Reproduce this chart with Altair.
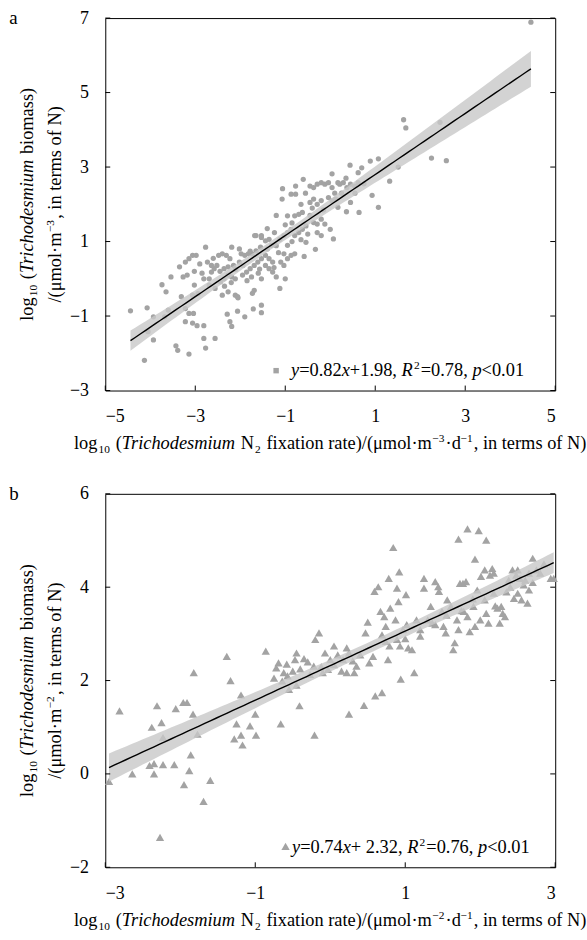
import altair as alt
import numpy as np
import pandas as pd

FONT = "Liberation Serif"
PT_COLOR = "#a3a3a3"
BAND_COLOR = "#c8c8c8"

# ---------------- data ----------------
A_POINTS = [
    (4.46, 6.89), (1.63, 4.27), (1.68, 4.05), (2.44, 4.20), (2.25, 3.24), (2.58, 3.17), (1.51, 3.00), (1.32, 2.62),
    (1.07, 3.22), (0.89, 3.16), (0.44, 3.05), (0.70, 2.98), (0.62, 2.85), (0.04, 2.82), (0.93, 2.24), (1.07, 1.92),
    (0.64, 1.78), (0.36, 1.80), (0.45, 2.05), (0.17, 1.92), (0.00, 1.33), (0.07, 1.07), (-0.33, 0.79), (-0.58, 0.60),
    (-0.54, 0.98), (-0.79, 0.67), (-1.00, 0.00), (-1.12, -0.26), (-1.03, 0.67), (-1.20, 0.89), (-1.07, 2.14), (-1.06, 2.42),
    (-0.77, 2.49), (-0.77, 2.27), (-0.60, 2.67), (-1.20, 1.70), (-1.53, 1.16), (-1.65, 1.16), (-1.57, 0.26), (-1.53, 0.00),
    (-1.69, -0.31), (-1.73, -0.39), (-1.53, -0.71), (-1.53, -0.91), (-1.71, -0.81), (-1.90, -1.02), (-2.06, -0.87), (-2.05, -0.51),
    (-2.23, -1.15), (-2.19, -1.28), (-2.29, -0.95), (-2.56, -1.60), (-2.77, -1.86), (-2.81, -1.60), (-3.14, -2.02), (-3.43, -1.80),
    (-3.39, -1.92), (-4.13, -2.19), (-3.93, -1.64), (-4.05, -1.42), (-4.44, -0.86), (-4.07, -0.78), (-3.93, -1.02), (-3.68, -1.02),
    (-3.74, -0.16), (-3.65, -0.35), (-3.54, 0.05), (-3.31, -0.48), (-3.22, -0.80), (-3.14, -0.93), (-3.22, -1.15), (-3.06, -1.19),
    (-2.96, -1.26), (-2.81, -1.26), (-3.04, -0.93), (-3.60, -0.84), (-3.35, 0.32), (-3.22, 0.45), (-3.14, 0.54), (-3.06, 0.63),
    (-2.98, 0.63), (-2.77, 0.85), (-3.27, 0.05), (-3.18, 0.10), (-3.02, 0.20), (-3.02, -0.17), (-3.06, -0.44), (-2.94, -0.40),
    (-2.81, 0.00), (-2.69, 0.00), (-2.64, 0.18), (-2.58, 0.27), (-2.52, 0.36), (-2.73, 0.45), (-2.64, 0.36), (-2.48, 0.63),
    (-2.40, 0.67), (-2.31, 0.63), (-2.23, 0.54), (-2.19, 0.85), (-2.02, 0.80), (-1.98, 0.67), (-1.90, 0.63), (-1.82, 0.67),
    (-1.78, 0.74), (-1.74, 0.67), (-1.68, 1.16), (-1.53, 1.11), (-1.44, 1.02), (-1.36, 1.06), (-1.24, 1.24), (-2.69, -0.17),
    (-2.56, -0.26), (-2.44, -0.08), (-2.36, 0.00), (-2.27, 0.10), (-2.19, 0.05), (-2.11, 0.00), (-2.40, -0.44), (-2.27, -0.35),
    (-2.11, -0.44), (-2.06, -0.48), (-2.36, 0.27), (-2.27, 0.32), (-2.15, 0.36), (-2.02, 0.45), (-1.94, 0.36), (-1.86, 0.18),
    (-1.78, 0.27), (-1.69, 0.36), (-1.61, 0.45), (-1.53, 0.54), (-1.44, 0.63), (-1.36, 0.54), (-1.28, 0.45), (-1.44, 0.36),
    (-1.36, 0.27), (-1.28, 0.18), (-1.20, 0.05), (-1.03, 0.36), (-0.95, 0.54), (-0.87, 0.63), (-1.12, 1.06), (-1.03, 1.16),
    (-0.95, 1.24), (-0.87, 1.33), (-0.79, 1.16), (-0.70, 1.24), (-0.62, 1.33), (-0.54, 1.42), (-0.79, 1.69), (-0.70, 1.73),
    (-0.62, 1.78), (-0.45, 2.05), (-0.37, 2.14), (-0.29, 2.00), (-0.20, 2.10), (-0.37, 1.51), (-0.29, 1.47), (-0.20, 1.60),
    (-0.12, 1.47), (-0.29, 1.24), (-0.20, 1.16), (-0.45, 2.49), (-0.37, 2.45), (-0.29, 2.54), (-0.20, 2.58), (-0.12, 2.54),
    (-0.04, 2.58), (0.04, 2.45), (0.17, 2.58), (0.21, 2.54), (0.29, 2.58), (0.37, 2.45), (0.45, 2.54), (0.54, 2.49),
    (0.62, 2.58), (-0.04, 2.18), (0.04, 2.09), (0.12, 2.14), (-0.95, 1.69), (-0.87, 2.27), (-2.90, 0.40), (-2.85, 0.15),
    (-2.60, 0.55), (-2.45, 0.20), (-2.35, -0.20), (-2.20, -0.10), (-2.10, 0.25), (-1.95, 0.10), (-1.85, -0.05), (-1.75, 0.05),
    (-1.60, 0.15), (-1.65, 0.75), (-1.55, 0.85), (-1.40, 0.80), (-1.30, 0.90), (-1.15, 0.70), (-1.25, 0.30), (-1.10, 0.45),
    (-0.95, 0.90), (-0.85, 1.00), (-0.65, 1.05), (-0.50, 1.20), (-0.45, 1.70), (-0.40, 1.90), (-0.15, 1.85), (0.10, 2.30),
    (0.25, 2.30), (0.55, 2.30), (0.75, 2.55), (0.35, 2.70), (-0.55, 2.30), (-0.65, 2.00), (-0.85, 1.50), (-1.00, 1.45),
    (-1.40, 1.35),
]

B_POINTS = [
    (-2.95, -0.16), (-2.81, 1.35), (-2.64, 0.00), (-2.41, 0.18), (-2.38, 1.00), (-2.35, 0.22), (-2.35, 0.00), (-2.31, 1.46),
    (-2.27, -1.36), (-2.25, 1.10), (-2.23, 0.78), (-2.23, 0.20), (-2.08, 0.20), (-2.06, 1.40), (-1.96, 1.53), (-1.91, 1.53),
    (-1.86, 0.41), (-1.83, 1.28), (-1.88, 0.07), (-1.95, -0.23), (-1.82, 2.17), (-1.77, 0.85), (-1.69, -0.59), (-1.60, -0.14),
    (-1.38, 2.52), (-1.33, 2.00), (-1.25, 1.07), (-1.28, 0.75), (-1.19, 1.69), (-1.17, 0.62), (-1.19, 0.83), (-1.07, 1.03),
    (-1.00, 1.28), (-0.99, 0.83), (-0.86, 2.63), (-0.72, 2.27), (-0.69, 2.38), (-0.66, 1.07), (-0.64, 1.99), (-0.62, 2.17),
    (-0.57, 2.10), (-0.55, 1.81), (-0.47, 2.45), (-0.45, 2.59), (-0.41, 1.46), (-0.40, 2.25), (-0.35, 2.47), (-0.27, 2.13),
    (-0.22, 2.31), (-0.20, 2.88), (-0.21, 0.83), (-0.15, 3.02), (-0.07, 2.59), (-0.10, 2.17), (-0.03, 2.24), (0.05, 2.34),
    (0.05, 2.74), (0.17, 2.45), (0.22, 2.70), (0.25, 2.59), (0.30, 2.42), (0.25, 1.28), (0.22, 2.17), (0.32, 2.17),
    (0.35, 2.31), (0.45, 1.47), (0.47, 3.02), (0.50, 3.25), (0.52, 2.38), (0.57, 2.52), (0.60, 1.67), (0.69, 1.74),
    (0.59, 3.91), (0.64, 4.01), (0.67, 3.48), (0.72, 3.37), (0.74, 3.16), (0.69, 2.98), (0.74, 2.84), (0.77, 2.45),
    (0.79, 2.74), (0.78, 4.19), (0.84, 4.85), (0.87, 3.30), (0.89, 2.88), (0.93, 2.74), (0.97, 3.09), (0.92, 4.33),
    (0.89, 3.98), (0.91, 3.69), (0.94, 2.03), (1.01, 3.84), (1.02, 3.20), (1.04, 2.70), (1.09, 2.66), (1.12, 2.17),
    (1.15, 3.30), (1.20, 3.09), (1.25, 4.19), (1.25, 3.98), (1.34, 3.59), (1.36, 3.23), (1.40, 4.12), (1.44, 4.01),
    (1.45, 3.91), (1.49, 3.48), (1.51, 3.16), (1.54, 3.02), (1.56, 3.73), (1.61, 3.59), (1.64, 2.66), (1.66, 2.81),
    (1.69, 3.30), (1.71, 3.09), (1.73, 4.08), (1.77, 4.08), (1.81, 4.12), (1.71, 5.03), (1.83, 5.25), (1.78, 3.48),
    (1.83, 3.37), (1.86, 3.05), (1.91, 3.59), (1.93, 3.16), (1.96, 3.94), (1.93, 4.60), (1.98, 5.21), (2.01, 4.23),
    (2.06, 4.37), (2.08, 5.01), (2.06, 3.73), (2.08, 3.44), (2.11, 3.23), (2.13, 4.26), (2.16, 4.40), (2.18, 4.30),
    (2.18, 3.87), (2.23, 3.55), (2.26, 3.23), (2.28, 3.59), (2.30, 3.44), (2.33, 3.37), (2.38, 4.15), (2.43, 4.37),
    (2.48, 4.26), (2.45, 3.76), (2.50, 3.87), (2.55, 3.73), (2.50, 4.37), (2.53, 4.19), (2.58, 4.05), (2.63, 3.66),
    (2.65, 3.94), (2.70, 4.62), (2.75, 4.37), (2.80, 4.30), (2.94, 4.19), (2.65, 4.30), (2.60, 4.15), (-0.75, 2.05),
    (-0.58, 2.35), (-0.50, 2.20), (-0.30, 2.40), (-0.12, 2.30), (0.00, 2.45), (0.10, 2.55), (0.40, 2.55), (0.15, 2.20),
    (-0.45, 1.90), (1.30, 3.30), (1.40, 3.20), (1.55, 3.40), (1.75, 3.50), (1.90, 3.75), (2.00, 3.30), (2.20, 3.60),
    (2.35, 3.90), (1.20, 2.95), (0.80, 3.55), (1.00, 2.90), (2.40, 4.00), (2.70, 4.10), (2.85, 4.50), (2.98, 4.19),
]

A_FIT = (0.82, 1.98)   # slope, intercept
B_FIT = (0.74, 2.32)

A_XDOM, A_YDOM = [-5, 5], [-3, 7]
B_XDOM, B_YDOM = [-3, 3], [-2, 6]
A_XTICKS = [-5, -3, -1, 1, 3, 5]
A_YTICKS = [-3, -1, 1, 3, 5, 7]
B_XTICKS = [-3, -1, 1, 3]
B_YTICKS = [-2, 0, 2, 4, 6]

A_LEGEND = [("y", "i"), ("=0.82", "n"), ("x", "i"), ("+1.98, ", "n"), ("R", "i"), ("2", "sup"),
            ("=0.78, ", "n"), ("p", "i"), ("<0.01", "n")]
B_LEGEND = [("y", "i"), ("=0.74", "n"), ("x", "i"), ("+ 2.32, ", "n"), ("R", "i"), ("2", "sup"),
            ("=0.76, ", "n"), ("p", "i"), ("<0.01", "n")]


def xtitle(p):
    return [("log", "n"), ("10", "sub"), (" (", "n"), ("Trichodesmium", "i"), (" N", "n"), ("2", "sub"),
            (" fixation rate)/(\u03bcmol\u00b7m", "n"), ("\u2212" + p, "sup"), ("\u00b7d", "n"),
            ("\u22121", "sup"), (", in terms of N)", "n")]


YTITLE1 = [("log", "n"), ("10", "sub"), (" (", "n"), ("Trichodesmium", "i"), (" biomass)", "n")]


def ytitle2(p):
    return [("/(\u03bcmol\u00b7m", "n"), ("\u2212" + p, "sup"), (", in terms of N)", "n")]


# ---------------- layout ----------------
W, HA, HB, GAP = 453, 375, 376, 104
LEFT, TOP = 104.8, 14.3
TICK = 5
TFS = 18.5   # title / legend font size
LFS = 18     # tick label font size
Z = 2.58     # band half-width multiplier (99 % confidence)

REG = {" ": 250, "(": 333, ")": 333, "/": 278, "\u00b7": 250, ",": 250, ".": 250, "=": 564, "+": 564,
       "<": 564, "\u2212": 564, "\u03bc": 580, "a": 444, "b": 500, "c": 444, "d": 500, "e": 444, "f": 333,
       "g": 500, "h": 500, "i": 278, "l": 278, "m": 778, "n": 500, "o": 500, "r": 333, "s": 389, "t": 278,
       "x": 500, "N": 722}
ITA = {"T": 556, "r": 389, "i": 278, "c": 444, "h": 500, "o": 500, "d": 500, "e": 444, "s": 389,
       "m": 722, "u": 500, "y": 444, "x": 444, "R": 611, "p": 500}
SUB = 0.62
SCRIPT_GAP = 0.06   # small extra room (in em) around a sub/superscript
ONE = pd.DataFrame({"k": [0]})


def seg_w(text, style, fs):
    tab = ITA if style == "i" else REG
    k = SUB if style in ("sub", "sup") else 1.0
    w = sum(tab.get(c, REG.get(c, 500)) for c in text) / 1000.0 * fs * k
    if style in ("sub", "sup"):
        w += 2 * SCRIPT_GAP * fs
    return w


def rich(segs, x0, y0, fs, angle=0, center=True):
    total = sum(seg_w(t, s, fs) for t, s in segs)
    off = -total / 2 if center else 0.0
    out = []
    for t, s in segs:
        core = t.strip(" ")
        lead = len(t) - len(t.lstrip(" "))
        trail = len(t) - len(t.rstrip(" "))
        sp = seg_w(" ", "n", fs)
        off += lead * sp
        script = s in ("sub", "sup")
        size = fs * SUB if script else fs
        shift = 0.22 * fs if s == "sub" else (-0.38 * fs if s == "sup" else 0.0)
        pre = SCRIPT_GAP * fs if script else 0.0
        if angle == 0:
            x, y = x0 + off + pre, y0 + shift
        else:
            x, y = x0 + shift, y0 - off - pre
        mk = dict(text=core, align="left", baseline="alphabetic", font=FONT, fontSize=size,
                  fontStyle="italic" if s == "i" else "normal", color="black")
        if angle:
            mk["angle"] = angle
        out.append(alt.Chart(ONE).mark_text(**mk).encode(x=alt.value(x), y=alt.value(y)))
        off += seg_w(core, s, fs) + trail * sp
    return out


def band_df(pts, fit):
    slope, icpt = fit
    x = np.array([p[0] for p in pts])
    y = np.array([p[1] for p in pts])
    n = len(x)
    s = np.sqrt(((y - (icpt + slope * x)) ** 2).sum() / (n - 2))
    xbar = x.mean()
    sxx = ((x - xbar) ** 2).sum()
    xs = np.linspace(x.min(), x.max(), 80)
    se = s * np.sqrt(1.0 / n + (xs - xbar) ** 2 / sxx)
    yh = icpt + slope * xs
    return pd.DataFrame({"x": xs, "y": yh, "lo": yh - Z * se, "hi": yh + Z * se})


def panel(pts, fit, xdom, ydom, xt, yt, H, shape, size, label, unit, legend, mk_pos, leg_pos,
          legend_shape, legend_size, bound_marker=False):
    xs = alt.Scale(domain=xdom, nice=False, zero=False)
    ys = alt.Scale(domain=ydom, nice=False, zero=False)
    ax_common = dict(title=None, ticks=False, domain=False, grid=False, labelFont=FONT,
                     labelFontSize=LFS, labelColor="black")
    xax = alt.Axis(values=xt, labelPadding=17, **ax_common)
    yax = alt.Axis(values=yt, labelPadding=17, **ax_common)
    df = pd.DataFrame(pts, columns=["x", "y"])
    bd = band_df(pts, fit)
    points = alt.Chart(df).mark_point(shape=shape, filled=True, size=size, color=PT_COLOR,
                                      opacity=1, strokeWidth=0).encode(
        x=alt.X("x:Q", scale=xs, axis=xax),
        y=alt.Y("y:Q", scale=ys, axis=yax),
    )
    band = alt.Chart(bd).mark_area(color=BAND_COLOR, opacity=0.8).encode(
        x=alt.X("x:Q", scale=xs, axis=xax),
        y=alt.Y("lo:Q", scale=ys, axis=yax),
        y2="hi:Q",
    )
    line = alt.Chart(bd).mark_line(color="black", strokeWidth=1.4).encode(
        x=alt.X("x:Q", scale=xs, axis=xax),
        y=alt.Y("y:Q", scale=ys, axis=yax),
    )
    ydf = pd.DataFrame({"y": yt})
    xdf = pd.DataFrame({"x": xt})
    lt = alt.Chart(ydf).mark_rule(color="black", strokeWidth=1).encode(
        y=alt.Y("y:Q", scale=ys, axis=yax), x=alt.value(0), x2=alt.value(TICK))
    rt = alt.Chart(ydf).mark_rule(color="black", strokeWidth=1).encode(
        y=alt.Y("y:Q", scale=ys, axis=yax), x=alt.value(W - TICK), x2=alt.value(W))
    bt = alt.Chart(xdf).mark_rule(color="black", strokeWidth=1).encode(
        x=alt.X("x:Q", scale=xs, axis=xax), y=alt.value(H - TICK), y2=alt.value(H))
    lmark = alt.Chart(ONE).mark_point(shape=legend_shape, filled=True, size=legend_size,
                                      color=PT_COLOR, opacity=1, strokeWidth=0).encode(
        x=alt.value(mk_pos[0]), y=alt.value(mk_pos[1]))
    layers = [points, band, line, lt, rt, bt, lmark]
    layers += rich(legend, leg_pos[0], leg_pos[1], TFS, center=False)
    layers += rich(xtitle(unit), W / 2, H + 59, TFS)
    layers += rich(YTITLE1, -73, H / 2, TFS, angle=270)
    layers += rich(ytitle2(unit), -45, H / 2, TFS, angle=270)
    layers.append(alt.Chart(ONE).mark_text(text=label, align="left", baseline="alphabetic", font=FONT,
                                           fontSize=19, color="black").encode(
        x=alt.value(8 - LEFT), y=alt.value(6)))
    if bound_marker:
        layers.append(alt.Chart(ONE).mark_rule(strokeWidth=0, opacity=0).encode(
            x=alt.value(-LEFT), x2=alt.value(-LEFT), y=alt.value(-TOP), y2=alt.value(-TOP)))
    return alt.layer(*layers).properties(width=W, height=H)


pa = panel(A_POINTS, A_FIT, A_XDOM, A_YDOM, A_XTICKS, A_YTICKS, HA, "circle", 28, "a", "3",
           A_LEGEND, (172, 355), (187, 360), "square", 30, bound_marker=True)
pb = panel(B_POINTS, B_FIT, B_XDOM, B_YDOM, B_XTICKS, B_YTICKS, HB, "triangle-up", 70, "b", "2",
           B_LEGEND, (181.5, 355), (188, 362), "triangle-up", 70)

chart = alt.vconcat(pa, pb, spacing=GAP, bounds="flush").properties(
    padding=0
).configure_view(stroke="black", strokeWidth=1)

chart.save("out.html", embed_options={"renderer": "svg", "actions": False})
